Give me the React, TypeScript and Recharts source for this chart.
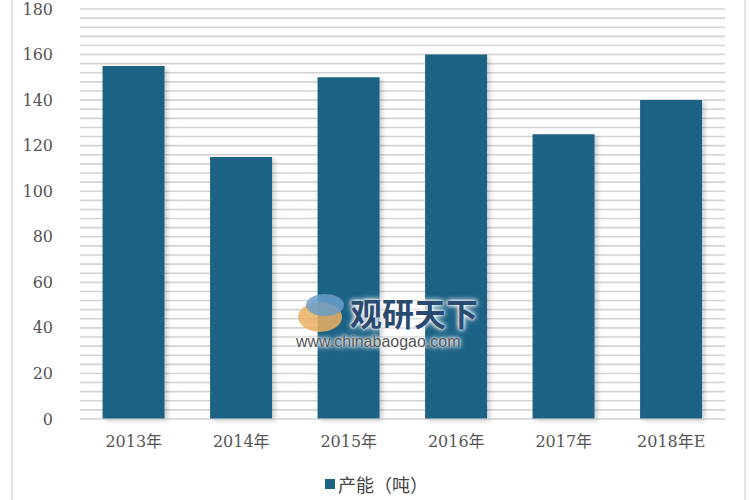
import { Bar, BarChart, CartesianGrid, XAxis, YAxis } from "recharts"

const years = ["2013年", "2014年", "2015年", "2016年", "2017年", "2018年E"]
const capacity = [155, 115, 150, 160, 125, 140]
const seriesName = "产能（吨）"
const gridTicks = [
  0, 4, 8, 12, 16, 20, 24, 28, 32, 36, 40, 44, 48, 52, 56, 60, 64, 68, 72, 76, 80, 84, 88, 92, 96, 100,
  104, 108, 112, 116, 120, 124, 128, 132, 136, 140, 144, 148, 152, 156, 160, 164, 168, 172, 176, 180,
]
const labelStep = 20

const data = years.map((year, i) => ({ year, value: capacity[i] }))

const font = "'DejaVu Serif', 'Noto Sans CJK SC', serif"
const barColor = "#1d6285"
const halo = "0 0 2px #fff, 0 0 4px #fff, 0 0 6px #fff"

function YTick(props: any) {
  const { x, y, payload } = props
  if (payload.value % labelStep !== 0) return null
  return (
    <text x={x} y={y} dy="0.35em" textAnchor="end" fill="#555" fontSize={16} fontFamily={font}>
      {payload.value}
    </text>
  )
}

export default function App() {
  return (
    <div style={{ position: "absolute", left: 0, top: 0, width: 750, height: 500, background: "#fff" }}>
      <div style={{ position: "absolute", left: 11, top: 0, width: 2, height: 500, background: "#e4e4e4" }} />
      <div style={{ position: "absolute", left: 744, top: 0, width: 2, height: 500, background: "#e4e4e4" }} />
      <BarChart
        width={750}
        height={500}
        data={data}
        margin={{ top: 9, right: 25, bottom: 51, left: 0 }}
        barCategoryGap="21%"
      >
        <defs>
          <filter id="barShadow" x="-10%" y="-10%" width="130%" height="130%">
            <feDropShadow dx="3" dy="2" stdDeviation="2" floodColor="#000" floodOpacity="0.18" />
          </filter>
        </defs>
        <CartesianGrid vertical={false} stroke="#d3d3d3" strokeWidth={1.6} />
        <XAxis
          dataKey="year"
          height={30}
          tickLine={false}
          axisLine={{ stroke: "#d9d9d9" }}
          tickMargin={11}
          tick={{ fill: "#555", fontSize: 16, fontFamily: font }}
        />
        <YAxis
          width={80}
          domain={[0, 180]}
          ticks={gridTicks}
          interval={0}
          tickLine={false}
          axisLine={false}
          tickMargin={21}
          tick={<YTick />}
        />
        <Bar dataKey="value" name={seriesName} fill={barColor} filter="url(#barShadow)" isAnimationActive={false} />
      </BarChart>
      <div
        style={{
          position: "absolute",
          left: 296,
          top: 292,
          width: 210,
          fontFamily: "'Noto Sans CJK SC', sans-serif",
          pointerEvents: "none",
        }}
      >
        <div style={{ position: "absolute", left: 2, top: 10, width: 44, height: 30, borderRadius: "50%", background: "#eab060", opacity: 0.85 }} />
        <div style={{ position: "absolute", left: 10, top: 2, width: 38, height: 22, borderRadius: "50%", background: "#6a9fc8", opacity: 0.85 }} />
        <div style={{ position: "absolute", left: 54, top: 0, fontSize: 32, fontWeight: 700, color: "#2a4a70", lineHeight: "40px", textShadow: halo }}>
          观研天下
        </div>
        <div style={{ position: "absolute", left: 0, top: 41, fontSize: 16, color: "#555", fontFamily: "'Liberation Sans', Arial, sans-serif", textShadow: halo }}>
          www.chinabaogao.com
        </div>
      </div>
      <div
        style={{
          position: "absolute",
          left: 325,
          top: 471,
          display: "flex",
          alignItems: "center",
          fontFamily: "'Noto Sans CJK SC', sans-serif",
          fontSize: 18,
          color: "#444",
        }}
      >
        <span style={{ display: "inline-block", width: 10, height: 10, background: barColor, marginRight: 3 }} />
        {seriesName}
      </div>
    </div>
  )
}
